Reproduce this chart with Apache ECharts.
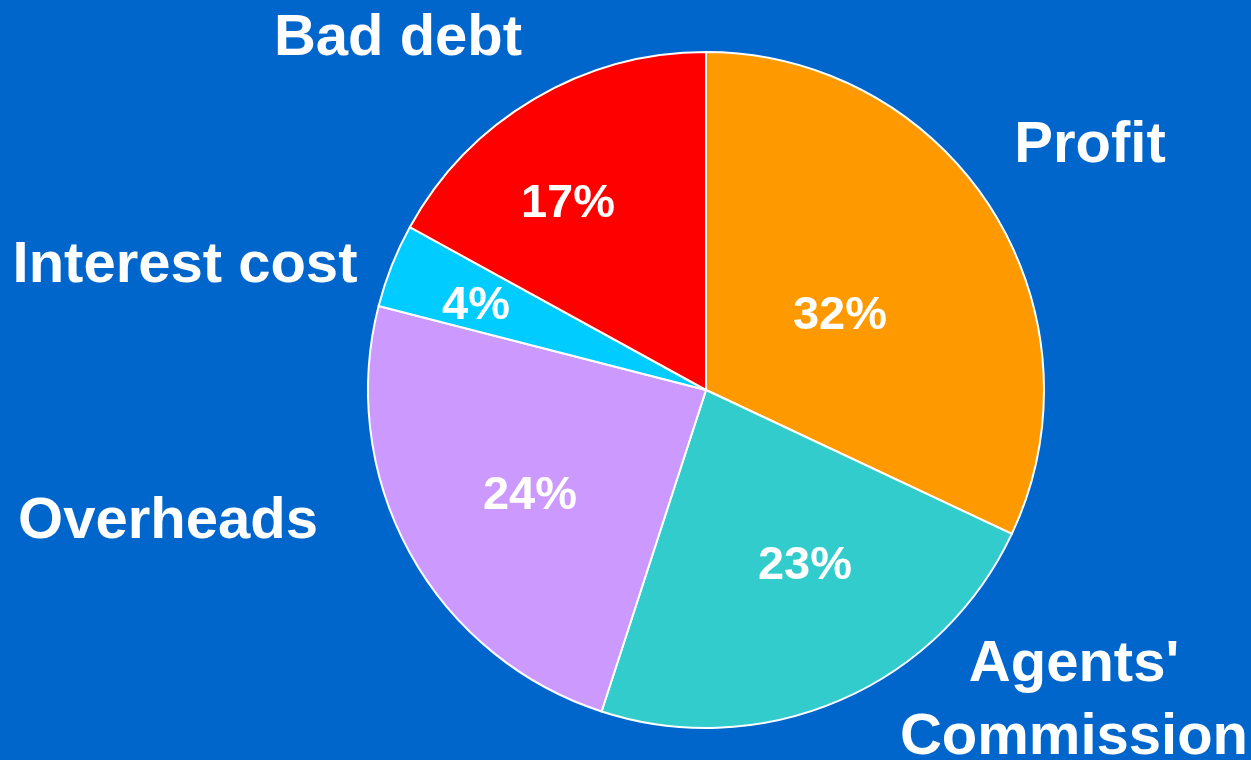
<!DOCTYPE html>
<html>
<head>
<meta charset="utf-8">
<script src="https://cdn.jsdelivr.net/npm/echarts@6/dist/echarts.min.js"></script>
<style>
  html, body { margin: 0; padding: 0; background: #0066CC; }
  #main { width: 1251px; height: 760px; }
</style>
</head>
<body>
<div id="main"></div>
<script>
var categories = ['Profit', "Agents'\nCommission", 'Overheads', 'Interest cost', 'Bad debt'];
var values = [32, 23, 24, 4, 17];
var colors = ['#FF9900', '#33CCCC', '#CC99FF', '#00CCFF', '#FF0000'];

// where the labels sit on the slide
var namePos = [[1090, 146], [1074, 701], [168, 522], [185, 266], [398, 39]];
var pctPos = [[840, 316], [805, 566], [530, 496], [476, 306], [568, 204]];

var myChart = echarts.init(document.getElementById('main'));

var data = values.map(function (v, i) {
    return { name: categories[i], value: v, itemStyle: { color: colors[i] } };
});

var options = {
    backgroundColor: '#0066CC',
    animation: false,
    series: [{
        type: 'pie',
        center: [706, 390],
        radius: 338,
        startAngle: 90,
        itemStyle: { borderColor: '#FFFFFF', borderWidth: 2 },
        label: {
            position: 'inside',
            formatter: '{c}%',
            color: '#FFFFFF',
            fontFamily: 'Liberation Sans',
            fontWeight: 'bold',
            fontSize: 47
        },
        labelLayout: function (p) {
            return { x: pctPos[p.dataIndex][0], y: pctPos[p.dataIndex][1], align: 'center', verticalAlign: 'middle' };
        },
        emphasis: { disabled: true },
        data: data
    }, {
        type: 'pie',
        center: [706, 390],
        radius: 338,
        startAngle: 90,
        silent: true,
        itemStyle: { color: 'transparent', borderWidth: 0 },
        label: {
            position: 'inside',
            formatter: '{b}',
            color: '#FFFFFF',
            fontFamily: 'Liberation Sans',
            fontWeight: 'bold',
            fontSize: 58,
            lineHeight: 73,
            overflow: 'none'
        },
        labelLine: { show: false },
        labelLayout: function (p) {
            return { x: namePos[p.dataIndex][0], y: namePos[p.dataIndex][1], align: 'center', verticalAlign: 'middle' };
        },
        data: values.map(function (v, i) { return { name: categories[i], value: v }; })
    }]
};
myChart.setOption(options);
</script>
</body>
</html>
